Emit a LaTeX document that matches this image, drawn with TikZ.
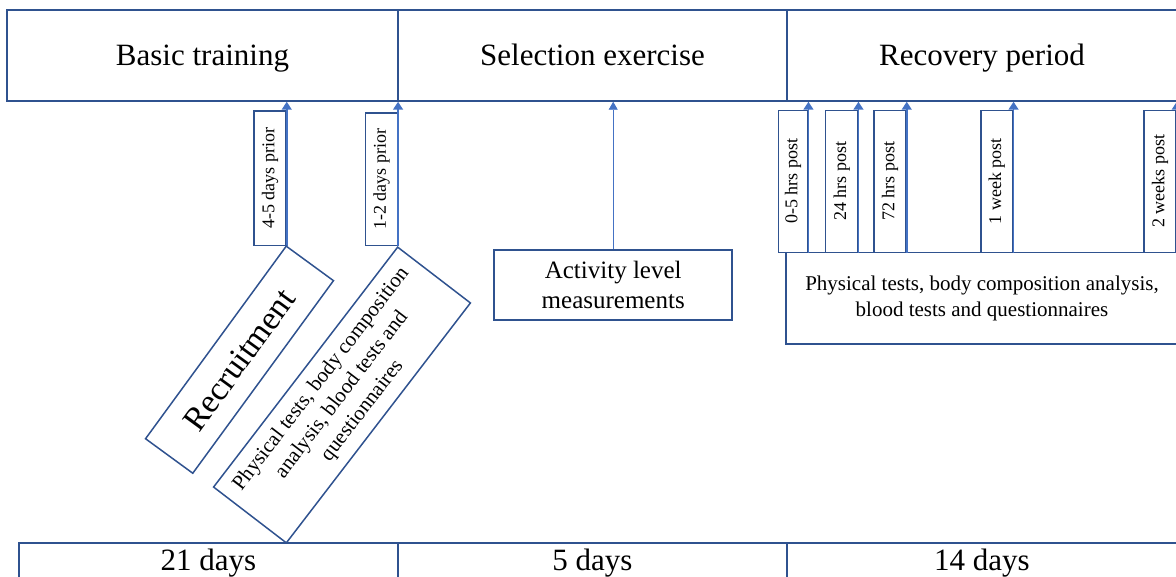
\documentclass[tikz,border=0pt]{standalone}
\usepackage{fontspec}
\setmainfont{Liberation Serif}
\usetikzlibrary{arrows.meta}
\definecolor{edge}{RGB}{47,82,143}
\definecolor{arr}{RGB}{68,114,196}
\begin{document}
\begin{tikzpicture}[x=1pt,y=-1pt,
  box/.style={draw=edge, line width=1.5pt, inner sep=0pt},
  band/.style={box, font=\fontsize{31}{37}\selectfont, text height=21pt, text depth=0pt},
  tickbox/.style={box, rotate=90, font=\fontsize{18}{22}\selectfont, minimum height=32pt},
  uparrow/.style={draw=arr, line width=1.5pt, -{Triangle[width=10pt,length=8pt]}},
]
\useasboundingbox (0,0) rectangle (1176,577);
\clip (0,0) rectangle (1176,577);
% top band
\node[band, minimum width=391pt, minimum height=91pt] (basic) at (202.5,55.5) {Basic training};
\node[band, minimum width=389pt, minimum height=91pt] (sel) at (592.5,55.5) {Selection exercise};
\node[band, minimum width=390pt, minimum height=91pt] (rec) at (982,55.5) {Recovery period};
% bottom band
\node[band, text depth=24pt, minimum width=379pt, minimum height=57pt] (d21) at (208.5,571.5) {21 days};
\node[band, text depth=24pt, minimum width=389pt, minimum height=57pt] (d5) at (592.5,571.5) {5 days};
\node[band, text depth=24pt, minimum width=390pt, minimum height=57pt] (d14) at (982,571.5) {14 days};
% left ticks
\node[tickbox, minimum width=134.5pt] (t45) at (270,178.3) {4-5 days prior};
\node[tickbox, minimum width=132.7pt, minimum height=31.6pt] (t12) at (381.5,179.3) {1-2 days prior};
\draw[uparrow] (t45.south west) -- (t45.south west |- basic.south);
\draw[uparrow] (t12.south west) -- (t12.south west |- basic.south);
% rotated boxes
\node[box, rotate=53.85, minimum width=238.5pt, minimum height=58.5pt, font=\fontsize{33.6}{40}\selectfont] (recr) at (239.5,359.7) {Recruitment};
\node[box, rotate=52.5, minimum width=302.4pt, minimum height=91.7pt, align=center, font=\fontsize{21}{26}\selectfont] (phys) at (342,395) {Physical tests, body composition\\analysis, blood tests and\\questionnaires};
% activity
\node[box, minimum width=238pt, minimum height=70pt, align=center, font=\fontsize{25}{30}\selectfont] (act) at (613.2,285) {Activity level\\measurements};
\draw[draw=arr, line width=0.8pt, -{Triangle[width=9pt,length=8pt]}] (act.north) -- (act.north |- sel.south);
% recovery tests
\node[box, minimum width=392pt, minimum height=91.7pt, align=center, font=\fontsize{21}{26}\selectfont] (rp) at (982,298.2) {Physical tests, body composition analysis,\\blood tests and questionnaires};
\node[tickbox, minimum width=141.8pt, minimum height=29.4pt] (tp0) at (793,181.4) {0-5 hrs post};
\node[tickbox, minimum width=141.8pt] (tp24) at (841.7,181.4) {24 hrs post};
\node[tickbox, minimum width=141.8pt] (tp72) at (890,181.4) {72 hrs post};
\node[tickbox, minimum width=141.8pt] (tw1) at (996.8,181.4) {1 week post};
\node[tickbox, minimum width=141.8pt] (tw2) at (1160,181.4) {2 weeks post};
\foreach \t in {tp0,tp24,tp72,tw1,tw2}
  \draw[uparrow] (\t.south west) -- (\t.south west |- rec.south);
\end{tikzpicture}
\end{document}
